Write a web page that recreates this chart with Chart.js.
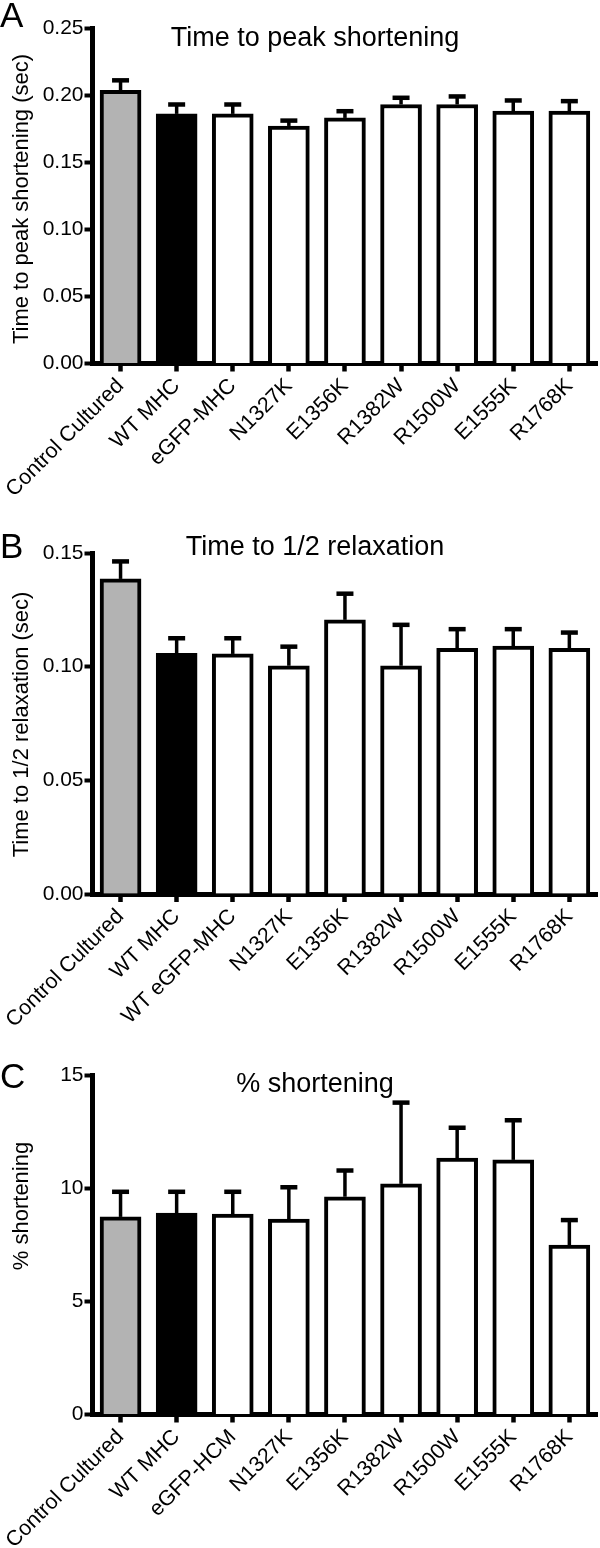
<!DOCTYPE html>
<html>
<head>
<meta charset="utf-8">
<script src="https://cdn.jsdelivr.net/npm/chart.js@4.4.1/dist/chart.umd.min.js"></script>
<style>
  body { margin: 0; background: #fff; }
  canvas { position: absolute; left: 0; }
</style>
</head>
<body>
<canvas id="chartA" width="600" height="510" style="top:0"></canvas>
<canvas id="chartB" width="600" height="530" style="top:510px"></canvas>
<canvas id="chartC" width="600" height="508" style="top:1040px"></canvas>
<script>
// values (mean + upper SEM)
const labelsA = ['Control Cultured', 'WT MHC', 'eGFP-MHC', 'N1327K', 'E1356K', 'R1382W', 'R1500W', 'E1555K', 'R1768K'];
const meanA = [0.2035, 0.186, 0.186, 0.177, 0.183, 0.193, 0.193, 0.188, 0.188];
const semA = [0.0075, 0.007, 0.007, 0.004, 0.005, 0.005, 0.006, 0.008, 0.0075];

const labelsB = ['Control Cultured', 'WT MHC', 'WT eGFP-MHC', 'N1327K', 'E1356K', 'R1382W', 'R1500W', 'E1555K', 'R1768K'];
const meanB = [0.1386, 0.1059, 0.1056, 0.1004, 0.1206, 0.1004, 0.1081, 0.1091, 0.1081];
const semB = [0.0077, 0.0066, 0.0069, 0.0084, 0.0115, 0.018, 0.0084, 0.0074, 0.0069];

const labelsC = ['Control Cultured', 'WT MHC', 'eGFP-HCM', 'N1327K', 'E1356K', 'R1382W', 'R1500W', 'E1555K', 'R1768K'];
const meanC = [8.73, 8.9, 8.85, 8.63, 9.62, 10.19, 11.33, 11.25, 7.48];
const semC = [1.11, 0.94, 0.99, 1.41, 1.16, 3.59, 1.34, 1.75, 1.11];

const barColors = ['#b3b3b3', '#000000', '#ffffff', '#ffffff', '#ffffff', '#ffffff', '#ffffff', '#ffffff', '#ffffff'];
const FONT = '"Liberation Sans", Arial, sans-serif';

// error bars + panel letter, title and y-axis title
const panelDeco = {
  id: 'panelDeco',
  afterDatasetsDraw(chart) {
    const ctx = chart.ctx, xs = chart.scales.x, ys = chart.scales.y;
    const ds = chart.data.datasets[0];
    ctx.save();
    ctx.strokeStyle = '#000';
    ds.data.forEach((m, i) => {
      const px = xs.getPixelForValue(i);
      const top = ys.getPixelForValue(m);
      const cap = ys.getPixelForValue(m + ds.errorBars[i]);
      ctx.lineWidth = 3.5;
      ctx.beginPath(); ctx.moveTo(px, top); ctx.lineTo(px, cap); ctx.stroke();
      ctx.lineWidth = 4.5;
      ctx.beginPath(); ctx.moveTo(px - 8.5, cap); ctx.lineTo(px + 8.5, cap); ctx.stroke();
    });
    ctx.restore();
  },
  afterDraw(chart, args, o) {
    const ctx = chart.ctx;
    ctx.save();
    ctx.fillStyle = '#000';
    ctx.textBaseline = 'alphabetic';
    ctx.textAlign = 'left';
    ctx.font = '35px ' + FONT;
    ctx.fillText(o.letter, 0, o.letterY);
    ctx.textAlign = 'center';
    ctx.font = '27px ' + FONT;
    ctx.fillText(o.title, 315, o.titleY);
    ctx.translate(22, o.yTitleY);
    ctx.rotate(-Math.PI / 2);
    ctx.textBaseline = 'middle';
    ctx.font = '22px ' + FONT;
    ctx.fillText(o.yTitle, 0, 0);
    ctx.restore();
  }
};

function makePanel(id, labels, means, sems, yMax, step, decimals, top, bottom, deco) {
  const canvas = document.getElementById(id);
  const h = canvas.height;
  return new Chart(canvas, {
    type: 'bar',
    data: {
      labels: labels,
      datasets: [{
        data: means,
        errorBars: sems,
        backgroundColor: barColors,
        borderColor: '#000',
        borderWidth: 4,
        barThickness: 41
      }]
    },
    options: {
      responsive: false,
      animation: false,
      layout: { padding: { top: top, right: 2.6, left: 0, bottom: 0 } },
      plugins: { legend: { display: false }, tooltip: { enabled: false }, panelDeco: deco },
      scales: {
        x: {
          z: 1,
          afterFit: (s) => { s.height = h - bottom; },
          grid: { display: true, drawOnChartArea: false, offset: false, tickLength: 8, tickWidth: 4.5, tickColor: '#000' },
          border: { display: true, color: '#000', width: 5 },
          ticks: { color: '#000', font: { family: FONT, size: 21.5 }, minRotation: 45, maxRotation: 45, autoSkip: false, padding: 2 }
        },
        y: {
          z: 1,
          min: 0,
          max: yMax,
          afterFit: (s) => { s.width = 92.5; },
          grid: { display: true, drawOnChartArea: false, tickLength: 8, tickWidth: 4, tickColor: '#000' },
          border: { display: true, color: '#000', width: 5 },
          ticks: {
            stepSize: step,
            color: '#000',
            padding: 1,
            font: { family: FONT, size: 21 },
            callback: (v) => Number(v).toFixed(decimals)
          }
        }
      }
    },
    plugins: [panelDeco]
  });
}

makePanel('chartA', labelsA, meanA, semA, 0.25, 0.05, 2, 28, 363.5,
  { letter: 'A', letterY: 27, title: 'Time to peak shortening', titleY: 46, yTitle: 'Time to peak shortening (sec)', yTitleY: 199 });
makePanel('chartB', labelsB, meanB, semB, 0.15, 0.05, 2, 43, 384,
  { letter: 'B', letterY: 48, title: 'Time to 1/2 relaxation', titleY: 45, yTitle: 'Time to 1/2 relaxation (sec)', yTitleY: 214.5 });
makePanel('chartC', labelsC, meanC, semC, 15, 5, 0, 35, 374.5,
  { letter: 'C', letterY: 48, title: '% shortening', titleY: 52, yTitle: '% shortening', yTitleY: 166 });
</script>
</body>
</html>
